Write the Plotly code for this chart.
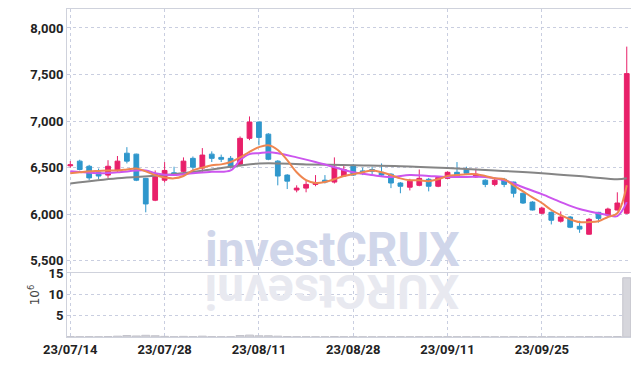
import plotly.graph_objects as go

dates = ["23/07/14","23/07/17","23/07/18","23/07/19","23/07/20","23/07/21","23/07/24","23/07/25","23/07/26","23/07/27",
         "23/07/28","23/07/31","23/08/01","23/08/02","23/08/03","23/08/04","23/08/07","23/08/08","23/08/09","23/08/10",
         "23/08/11","23/08/14","23/08/16","23/08/17","23/08/18","23/08/21","23/08/22","23/08/23","23/08/24","23/08/25",
         "23/08/28","23/08/29","23/08/30","23/08/31","23/09/01","23/09/04","23/09/05","23/09/06","23/09/07","23/09/08",
         "23/09/11","23/09/12","23/09/13","23/09/14","23/09/15","23/09/18","23/09/19","23/09/20","23/09/21","23/09/22",
         "23/09/25","23/09/26","23/09/27","23/10/04","23/10/05","23/10/06","23/10/10","23/10/11","23/10/12","23/10/13"]

open_ = [6520,6570,6515,6450,6420,6470,6655,6645,6385,6150,
         6365,6445,6460,6600,6495,6645,6610,6600,6535,6815,
         6990,6860,6570,6420,6260,6280,6320,6365,6345,6410,
         6525,6465,6480,6450,6430,6335,6290,6310,6375,6300,
         6385,6450,6480,6400,6365,6320,6375,6345,6225,6130,
         6010,6020,5925,5970,5870,5785,6020,5990,6045,6010]
high = [6570,6585,6530,6490,6580,6625,6720,6650,6390,6470,
        6560,6510,6610,6620,6710,6675,6640,6625,6835,7050,
        6995,6870,6580,6430,6310,6365,6420,6420,6610,6535,
        6540,6500,6510,6545,6440,6345,6380,6480,6390,6410,
        6460,6560,6510,6490,6375,6380,6390,6350,6230,6140,
        6080,6030,6030,5980,5930,5960,6025,6070,6235,7800]
low = [6500,6470,6365,6375,6390,6450,6545,6355,6020,6140,
       6340,6410,6440,6470,6450,6560,6560,6490,6515,6795,
       6740,6580,6310,6270,6235,6235,6300,6330,6330,6400,
       6410,6420,6430,6410,6280,6225,6255,6300,6245,6290,
       6380,6400,6420,6390,6290,6300,6290,6180,6110,6040,
       6000,5890,5910,5850,5800,5780,5910,5975,6040,6000]
close = [6530,6480,6390,6410,6515,6570,6570,6365,6110,6430,
         6470,6430,6570,6505,6635,6600,6590,6505,6815,6990,
         6825,6590,6410,6355,6280,6320,6340,6345,6505,6480,
         6420,6455,6460,6420,6335,6300,6355,6385,6300,6395,
         6450,6410,6440,6430,6320,6365,6320,6225,6120,6045,
         6065,5935,5970,5860,5840,5945,5955,6055,6120,7510]

volume_m = [0.10,0.08,0.10,0.07,0.12,0.20,0.35,0.25,0.40,0.30,
            0.15,0.08,0.15,0.10,0.20,0.10,0.07,0.08,0.35,0.45,
            0.30,0.30,0.20,0.12,0.08,0.07,0.06,0.06,0.12,0.08,
            0.08,0.05,0.05,0.06,0.08,0.07,0.06,0.08,0.07,0.07,
            0.08,0.07,0.06,0.06,0.07,0.05,0.06,0.08,0.09,0.08,
            0.07,0.08,0.06,0.08,0.07,0.10,0.08,0.07,0.12,14.0]

ma_short_dates = dates
ma_short = [6440,6450,6460,6465,6470,6470,6480,6490,6460,6420,
            6395,6385,6410,6470,6500,6525,6535,6560,6610,6670,
            6720,6740,6690,6580,6450,6365,6335,6345,6375,6410,
            6430,6450,6470,6450,6420,6385,6365,6365,6355,6375,
            6410,6420,6430,6430,6410,6385,6375,6310,6245,6180,
            6120,6045,5990,5945,5915,5915,5925,5970,6010,6310]

ma_mid_dates = [dates[i] for i in (0,3,5,8,9,11,13,15,17,18,19,20,21,22,24,26,28,30,32,34,36,38,40,42,44,46,48,50,52,54,56,57,58,59)]
ma_mid = [6460,6440,6450,6470,6440,6420,6440,6455,6470,6580,6645,6655,6665,6655,6610,6560,6505,6450,6420,
          6400,6420,6410,6400,6400,6400,6365,6290,6215,6130,6055,6010,5990,5980,6130]

ma_long_dates = [dates[i] for i in (0,5,10,15,20,25,30,35,40,45,50,55,58,59)]
ma_long = [6330,6385,6420,6480,6545,6535,6525,6515,6495,6470,6440,6400,6375,6385]

tick_dates = dates[0::10]

RED = "#e8206a"
BLUE = "#2f97cc"
GRID = "#c9cee0"
FRAME = "#cfd2dc"
tickfont = dict(family="Roboto", size=13, color="#222222", weight="bold")

fig = go.Figure()
fig.add_trace(go.Scatter(x=ma_long_dates, y=ma_long, mode="lines", line=dict(color="#858585", width=2, shape="spline"),
                         hoverinfo="skip", showlegend=False, xaxis="x", yaxis="y"))
fig.add_trace(go.Candlestick(x=dates, open=open_, high=high, low=low, close=close,
                             increasing=dict(line=dict(color=RED, width=1), fillcolor=RED),
                             decreasing=dict(line=dict(color=BLUE, width=1), fillcolor=BLUE),
                             whiskerwidth=0, showlegend=False, xaxis="x", yaxis="y"))
fig.add_trace(go.Scatter(x=ma_mid_dates, y=ma_mid, mode="lines", line=dict(color="#cc55ee", width=2, shape="spline"),
                         hoverinfo="skip", showlegend=False, xaxis="x", yaxis="y"))
fig.add_trace(go.Scatter(x=ma_short_dates, y=ma_short, mode="lines", line=dict(color="#ef8650", width=2, shape="spline"),
                         hoverinfo="skip", showlegend=False, xaxis="x", yaxis="y"))
fig.add_trace(go.Bar(x=dates, y=volume_m, marker=dict(color="#d6d6dc", line=dict(color="#c4c4cc", width=1)),
                     width=0.85, showlegend=False, xaxis="x2", yaxis="y2"))

# watermark + faint reflection
fig.add_annotation(text="investCRUX", xref="paper", yref="paper", x=0.47, y=0.199, xanchor="center", yanchor="bottom",
                   showarrow=False, yshift=-8,
                   font=dict(family="Roboto", size=48, color="#d0d6ea", weight="bold"))
fig.add_annotation(text="XURCtsevni", xref="paper", yref="paper", x=0.47, y=0.199, xanchor="center", yanchor="top",
                   showarrow=False, textangle=180, yshift=10,
                   font=dict(family="Roboto", size=48, color="#e8e9f0", weight="bold"))
# volume unit label
fig.add_annotation(text="10<sup>6</sup>", xref="paper", yref="paper", x=-0.058, y=0.128, xanchor="center", yanchor="middle",
                   showarrow=False, textangle=-90, font=dict(family="DejaVu Sans", size=12, color="#444444"))

xcommon = dict(type="category", range=[-0.35, 59.45], tickmode="array", tickvals=tick_dates, ticktext=tick_dates,
               showgrid=True, gridcolor=GRID, griddash="dot", gridwidth=1, showline=True, linecolor=FRAME,
               mirror=True, ticks="", zeroline=False, categoryorder="array", categoryarray=dates, automargin=False)
fig.update_layout(
    width=639, height=366, margin=dict(l=59, r=16, t=1, b=37),
    paper_bgcolor="white", plot_bgcolor="white", boxgap=0.28,
    xaxis=dict(xcommon, domain=[0, 1], anchor="y", showticklabels=False, rangeslider=dict(visible=False)),
    xaxis2=dict(xcommon, domain=[0, 1], anchor="y2", matches="x", tickfont=tickfont),
    yaxis=dict(domain=[0.199, 1], range=[5382, 8204], tickvals=[5500, 6000, 6500, 7000, 7500, 8000],
               tickformat=",", tickfont=tickfont, showgrid=True, gridcolor=GRID, griddash="dot",
               showline=True, linecolor=FRAME, mirror=True, zeroline=False, ticks="", automargin=False),
    yaxis2=dict(domain=[0, 0.196], range=[0, 15.2], tickvals=[5, 10, 15], tickfont=tickfont,
                showgrid=True, gridcolor=GRID, griddash="dot", showline=True, linecolor=FRAME, mirror=True,
                zeroline=False, ticks="", automargin=False),
    bargap=0.15,
)
fig.write_html("out.html")
